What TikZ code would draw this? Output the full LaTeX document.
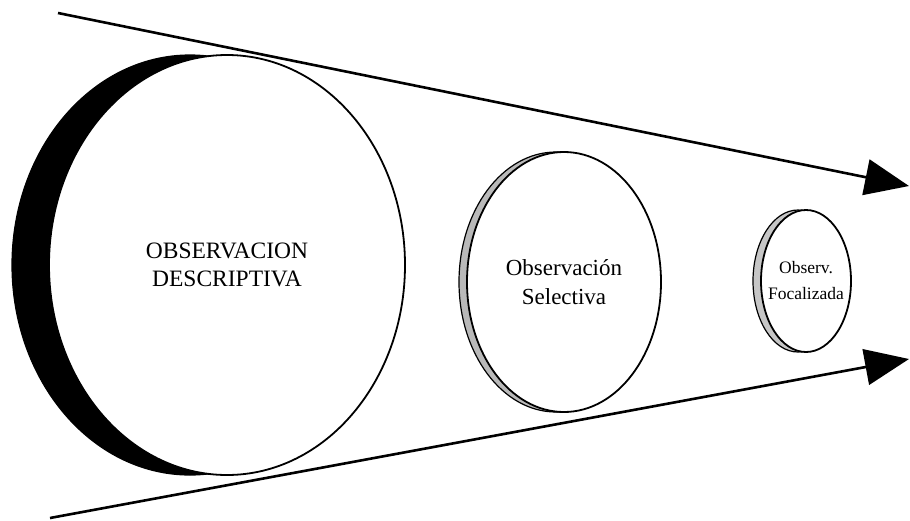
\documentclass[tikz,border=0pt]{standalone}
\usepackage{fontspec}
\setmainfont{Liberation Serif}
\usetikzlibrary{shapes.geometric,arrows.meta}
\tikzset{
  lens/.style={ellipse, draw=black, line width=1.8pt, fill=white, inner sep=0pt},
  lenstext/.style={align=center, inner sep=0pt},
  flecha/.style={line width=2.6pt, -{Triangle[length=44pt,width=36pt]}}
}
% name, center, x radius, y radius, shadow offset, shadow colour, font, text
\newcommand{\lente}[8]{%
 \filldraw [black, fill={#6}, line width=1.2pt] ([xshift=-#5pt]#2) ellipse [x radius=#3pt, y radius=#4pt];%
 \node ({#1}) [lens, minimum width={2*#3pt}, minimum height={2*#4pt}] at (#2) {};%
 \node ({#1-t}) [lenstext, font={#7}] at ({#1}.center) {#8};%
}

\begin{document}
\begin{tikzpicture}[x=1pt,y=-1pt]
   \useasboundingbox (0,0) rectangle (910,520);
   \coordinate (t1) at (58,13);
   \coordinate (t2) at (909,186);
   \coordinate (b1) at (50,518);
   \coordinate (b2) at (909,359);
   \draw[flecha] (t1) -- (t2);
   \draw[flecha] (b1) -- (b2);
   \lente{desc}{227,265}{178}{210}{37}{black}{\fontsize{23.5}{28}\selectfont}{OBSERVACION\\DESCRIPTIVA};
   \lente{sel}{564,282}{97}{130}{8}{gray!55}{\fontsize{23}{29}\selectfont}{Observación\\Selectiva};
   \lente{foc}{806,281}{45}{71}{8}{gray!45}{\fontsize{17.5}{26}\selectfont}{Observ.\\Focalizada};
\end{tikzpicture}
\end{document}
